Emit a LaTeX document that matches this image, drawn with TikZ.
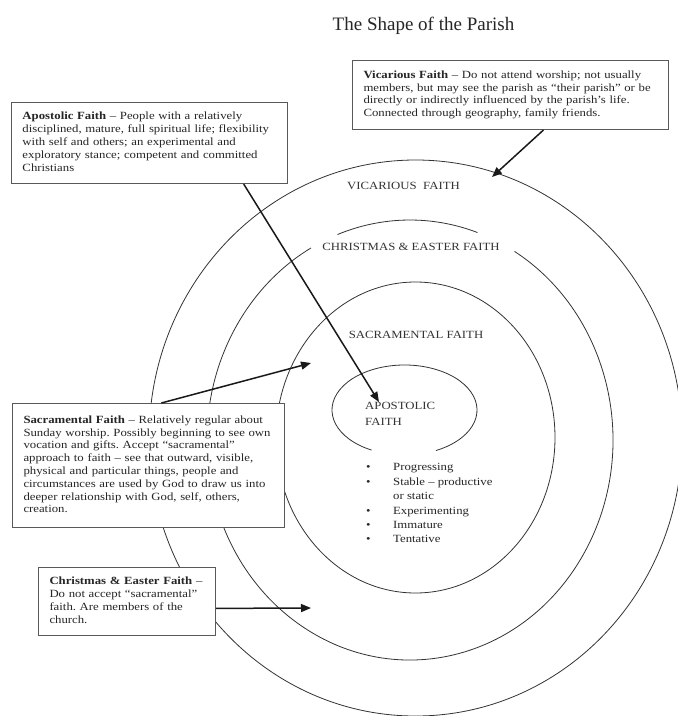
\documentclass[tikz,border=0pt]{standalone}
\usepackage{fontspec}
\setmainfont{Liberation Serif}[FakeStretch=1.16]
\newfontfamily\titlefont{Liberation Serif}
\usetikzlibrary{arrows.meta,calc}
\newcommand\boxfont{\fontsize{11}{12.8}\selectfont}
\newcommand\listfont{\fontsize{11}{14.4}\selectfont}
\newcommand\ringfont{\fontsize{11}{16.5}\selectfont}
\frenchspacing
\begin{document}
\begin{tikzpicture}[x=1pt,y=-1pt,
  ring/.style={draw=black!80, line width=0.8pt},
  infobox/.style={draw=black!65, line width=1pt, fill=white, anchor=north west,
    inner xsep=11pt, inner ysep=0pt, align=left, font=\boxfont, text=black!85},
  pointer/.style={draw=black!90, line width=1.5pt, -{Triangle[length=10pt,width=8pt]}},
  ringlabel/.style={font=\ringfont, text=black!80, inner sep=1pt}]
\useasboundingbox (0,0) rectangle (678,716);
\fill[white] (0,0) rectangle (678,716);

% title
\node[font=\titlefont\fontsize{19}{22}\selectfont, text=black!85, anchor=base, inner sep=0pt] (title) at (423.5,30) {The Shape of the Parish};

% rings
\draw[ring] (415.6,438) ellipse [x radius=266.5, y radius=278];
\draw[ring] (410,440) ++(-59:203 and 220) arc[start angle=-59, end angle=240.8, x radius=203, y radius=220];
\draw[ring] (410,440) ++(-110.9:203 and 220) arc[start angle=-110.9, end angle=-70.6, x radius=203, y radius=220];
\draw[ring] (415.5,437.5) ellipse [x radius=139.5, y radius=155.5];
\draw[ring] (404.5,410) ++(117:72.5 and 45) arc[start angle=117, end angle=424.3, x radius=72.5, y radius=45];

% ring labels
\node[ringlabel, anchor=base] (lvic) at (403.5,189.3) {VICARIOUS\hspace{0.6em}FAITH};
\node[ringlabel, anchor=base] (lce) at (411,250.8) {CHRISTMAS \& EASTER FAITH};
\node[ringlabel, anchor=base] (lsac) at (416,338.3) {SACRAMENTAL FAITH};
\node[ringlabel, align=left, anchor=west, inner sep=0pt] (lapo) at (365,413.8) {APOSTOLIC\\FAITH};

% bullet list
\node[anchor=north west, inner sep=0pt, align=left, font=\listfont, text=black!85] (bul) at (366,463.5)
  {\makebox[27pt][l]{•}Progressing\\
   \makebox[27pt][l]{•}Stable – productive\\
   \hspace*{27pt}or static\\
   \makebox[27pt][l]{•}Experimenting\\
   \makebox[27pt][l]{•}Immature\\
   \makebox[27pt][l]{•}Tentative};

% info boxes
\node[infobox, minimum width=316pt, minimum height=69pt, text width=294pt] (vic) at (352,60)
  {\begin{tabular}{@{}l@{}}
   \textbf{Vicarious Faith} – Do not attend worship; not usually\\
   members, but may see the parish as “their parish” or be\\
   directly or indirectly influenced by the parish’s life.\\
   Connected through geography, family friends.
   \end{tabular}};
\node[infobox, minimum width=276pt, minimum height=81pt, text width=254pt] (apo) at (11,102)
  {\begin{tabular}{@{}l@{}}
   \textbf{Apostolic Faith} – People with a relatively\\
   disciplined, mature, full spiritual life; flexibility\\
   with self and others; an experimental and\\
   exploratory stance; competent and committed\\
   Christians
   \end{tabular}};
\node[infobox, minimum width=272pt, minimum height=124pt, text width=250pt] (sac) at (12,403)
  {\begin{tabular}{@{}l@{}}
   \textbf{Sacramental Faith} – Relatively regular about\\
   Sunday worship. Possibly beginning to see own\\
   vocation and gifts. Accept “sacramental”\\
   approach to faith – see that outward, visible,\\
   physical and particular things, people and\\
   circumstances are used by God to draw us into\\
   deeper relationship with God, self, others,\\
   creation.
   \end{tabular}};
\node[infobox, minimum width=177pt, minimum height=68pt, text width=155pt] (ce) at (38,567)
  {\begin{tabular}{@{}l@{}}
   \textbf{Christmas \& Easter Faith} –\\
   Do not accept “sacramental”\\
   faith. Are members of the\\
   church.
   \end{tabular}};

% pointer tips
\coordinate (vtip) at (492,177);
\coordinate (atip) at (379,402);
\coordinate (stip) at (311,363);
\coordinate (ctip) at (311,608);

% pointers
\draw[pointer] ($(vic.south west)!0.604!(vic.south east)$) -- (vtip);
\draw[pointer] ($(apo.south west)!0.84!(apo.south east)$) -- (atip);
\draw[pointer] ($(sac.north west)!0.547!(sac.north east)$) -- (stip);
\draw[pointer] ($(ce.north east)!0.60!(ce.south east)$) -- (ctip);
\end{tikzpicture}
\end{document}
